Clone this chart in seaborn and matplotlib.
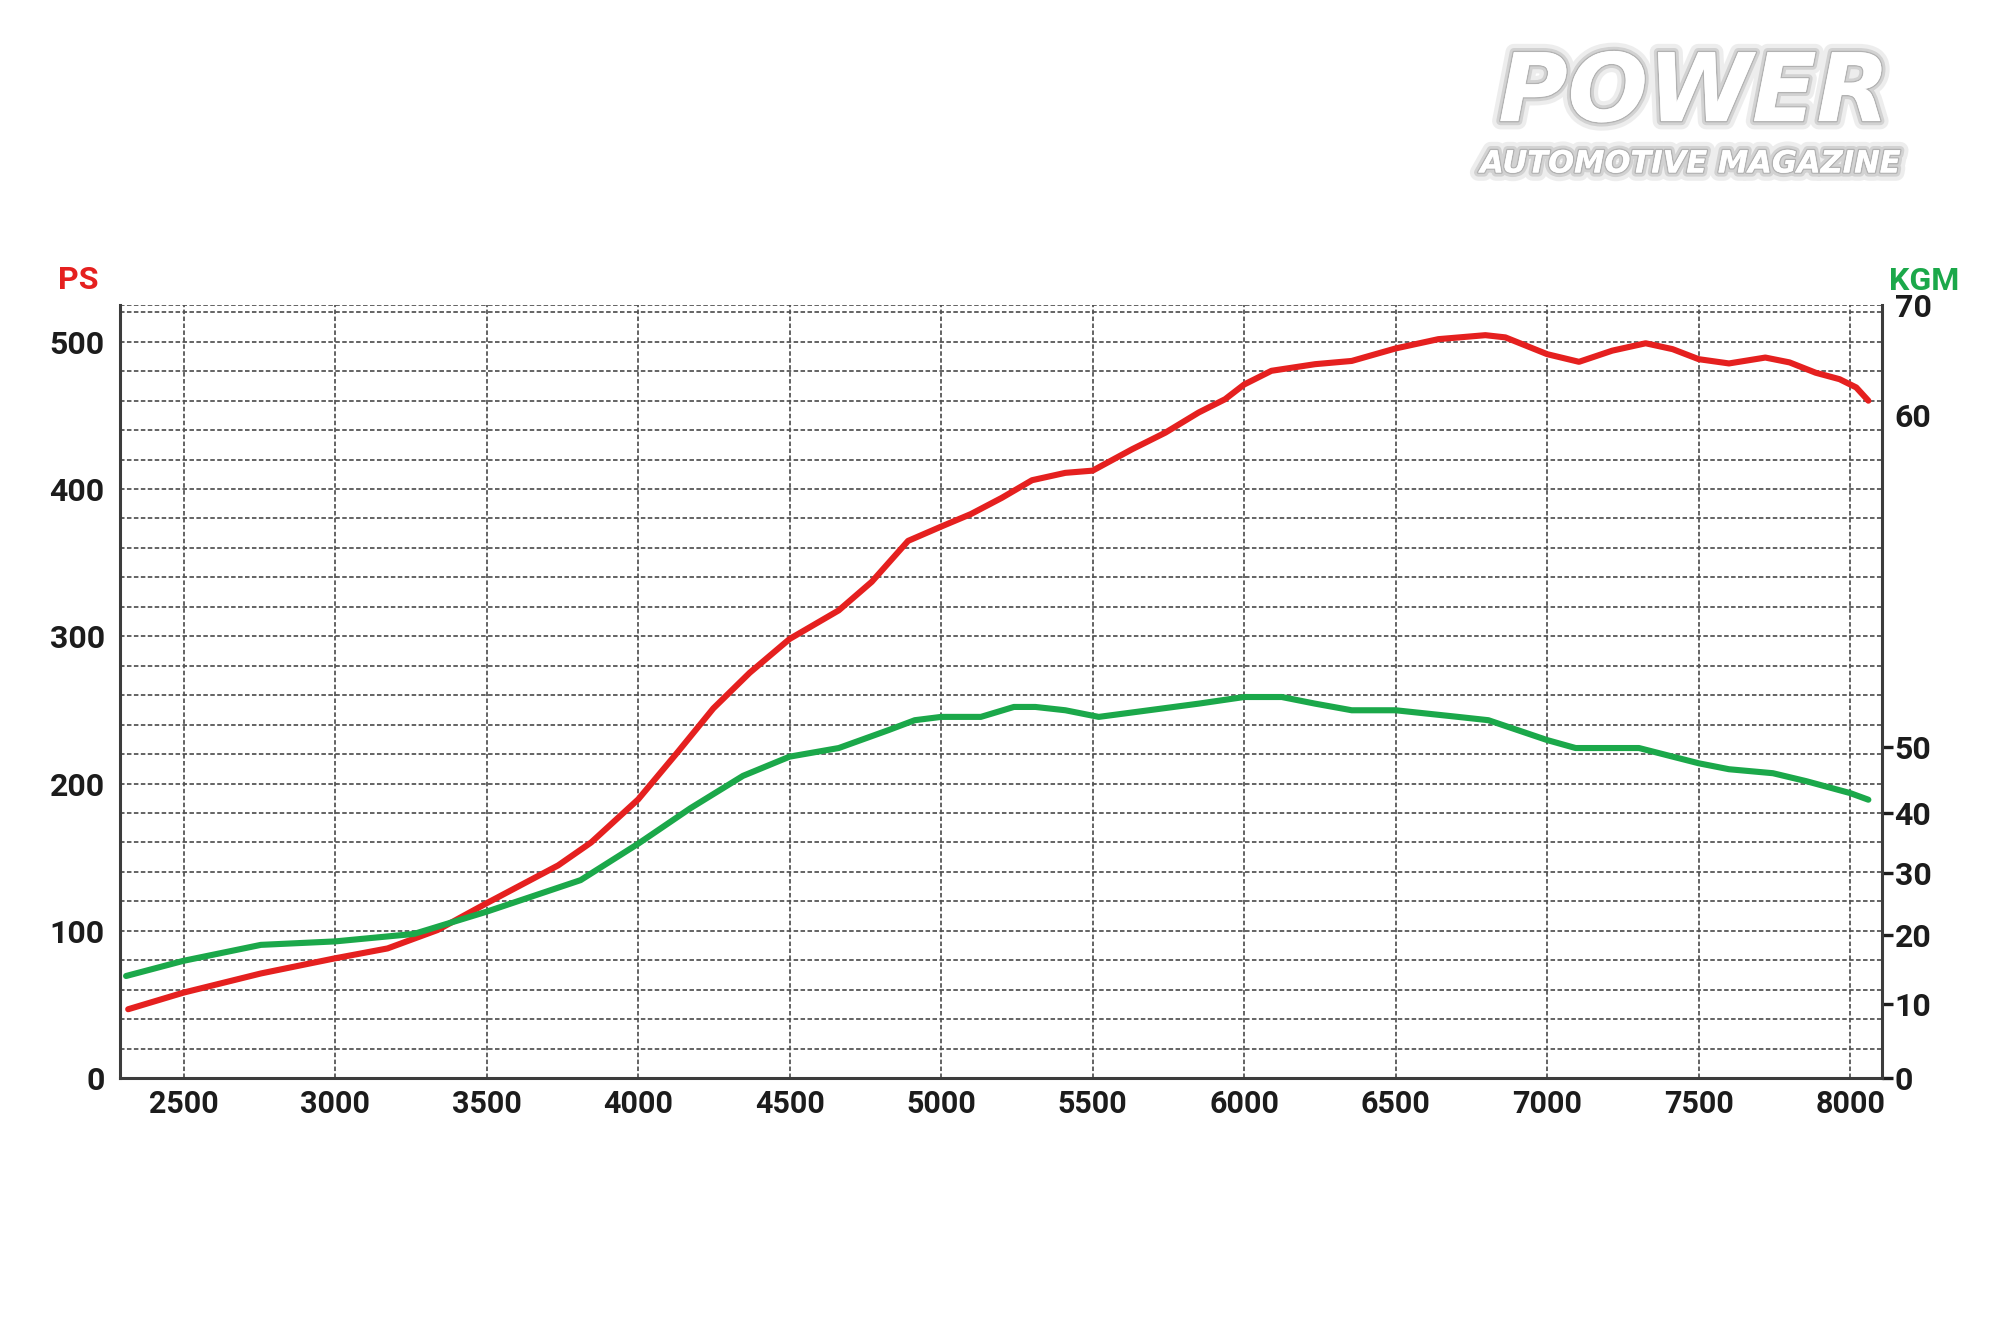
import numpy as np
import pandas as pd
import seaborn as sns
import matplotlib
matplotlib.use("Agg")
import matplotlib.pyplot as plt
from matplotlib import patheffects as pe

# power curve (PS)
power_rpm = [2317, 2500, 2755, 3000, 3173, 3338, 3500, 3736, 3845, 4000,
             4128, 4248, 4368, 4500, 4662, 4771, 4891, 5000, 5098, 5200,
             5300, 5410, 5500, 5630, 5740, 5850, 5937, 6000, 6090,
             6234, 6355, 6500, 6641, 6796, 6862, 7000, 7105, 7215, 7325,
             7414, 7500, 7600, 7720, 7800, 7886, 7965, 8020, 8060]
power_ps = [46.7, 58, 71, 81.3, 88, 100.5, 118.7, 144.4, 160, 189.2,
            220.7, 251, 275.2, 298.2, 317.6, 337, 364.8, 374.5, 383, 394,
            406, 411, 412.5, 427, 438.3, 452, 461, 471, 480.3,
            484.8, 487, 495.5, 501.8, 504.5, 503, 491.6, 486.4, 494, 499,
            495, 488.2, 485.3, 489.3, 486, 479, 474.6, 469, 460]

# torque curve (kgm)
torque_rpm = [2310, 2500, 2755, 3000, 3260, 3500, 3810, 4000, 4172, 4346,
              4500, 4662, 4826, 4913, 5000, 5131, 5240, 5311, 5410, 5520,
              5685, 5850, 6000, 6124, 6234, 6355, 6500, 6706, 6806, 7000,
              7094, 7303, 7500, 7600, 7745, 7855, 8000, 8060]
torque_kgm = [14.1, 16.3, 18.6, 19.1, 20.2, 23.8, 28.9, 34.9, 40.7, 45.6,
              48.5, 49.8, 50.5, 50.8, 50.9, 50.9, 51.2, 51.2, 51.1, 50.9,
              51.1, 51.3, 51.5, 51.5, 51.3, 51.1, 51.1, 50.9, 50.8, 50.2,
              49.8, 49.8, 47.5, 46.6, 46.0, 44.8, 43.0, 42.0]

rpm_ticks = [2500, 3000, 3500, 4000, 4500, 5000, 5500, 6000, 6500, 7000, 7500, 8000]
ps_ticks = [0, 100, 200, 300, 400, 500]
kgm_ticks = [0, 10, 20, 30, 40, 50, 60, 70]
# the KGM scale on the sheet is not linear: where each label sits on the PS scale
kgm_tick_pos = [0, 50, 97, 139, 180, 225, 450, 525]

RED = "#e5201f"
GREEN = "#1ba84a"
INK = "#1c1c1c"
GRID = "#505050"

sns.set_theme(style="white")
plt.rcParams["font.family"] = ["Roboto", "DejaVu Sans"]
plt.rcParams["font.weight"] = "bold"


def kgm_to_pos(v):
    return np.interp(v, kgm_ticks, kgm_tick_pos)


def pos_to_kgm(v):
    return np.interp(v, kgm_tick_pos, kgm_ticks)


fig = plt.figure(figsize=(20, 13.33), dpi=100)
ax = fig.add_axes([0.06, 0.1913, 0.881, 0.5799])

power = pd.DataFrame({"rpm": power_rpm, "ps": power_ps})
torque = pd.DataFrame({"rpm": torque_rpm, "kgm": torque_kgm})

sns.lineplot(data=power, x="rpm", y="ps", ax=ax, color=RED, lw=4.4)
ax.set_xlim(2290, 8105)
ax.set_ylim(0, 525)

ax2 = ax.twinx()
sns.lineplot(data=torque, x="rpm", y="kgm", ax=ax2, color=GREEN, lw=4.4)
ax2.set_yscale("function", functions=(kgm_to_pos, pos_to_kgm))
ax2.set_ylim(0, 70)

# grid
ax.set_xticks(rpm_ticks)
ax.set_yticks(ps_ticks)
ax.set_yticks(list(range(20, 521, 20)) + [525], minor=True)
grid_kw = dict(color=GRID, lw=1.25, linestyle=(0, (2.6, 1.4)))
ax.grid(which="both", axis="y", **grid_kw)
ax.grid(which="major", axis="x", **grid_kw)
ax.set_axisbelow(True)

for a in (ax, ax2):
    a.set_xlabel("")
    a.set_ylabel("")
    a.spines["top"].set_visible(False)
ax.spines["right"].set_visible(False)
ax2.spines["left"].set_visible(False)
ax2.spines["bottom"].set_visible(False)
for s in ("left", "bottom"):
    ax.spines[s].set_color("#3c3c3c")
    ax.spines[s].set_linewidth(2.2)
ax2.spines["right"].set_color("#3c3c3c")
ax2.spines["right"].set_linewidth(2.2)

ax.tick_params(axis="y", which="both", length=0, pad=11, labelsize=23, labelcolor=INK)
ax.tick_params(axis="x", length=0, pad=8, labelsize=22, labelcolor=INK)

ax2.set_yticks(kgm_ticks)
ax2.set_yticklabels([str(k) for k in kgm_ticks])
ax2.minorticks_off()
ax2.tick_params(axis="y", right=True, length=8, width=2.4, color=INK,
                pad=1, labelsize=23, labelcolor=INK)
for t in ax2.yaxis.get_major_ticks()[6:]:
    t.tick2line.set_visible(False)

fig.text(0.0288, 0.790, "PS", color=RED, fontsize=23, ha="left", va="center")
fig.text(0.9445, 0.789, "KGM", color=GREEN, fontsize=23, ha="left", va="center")

# magazine logo
glow = [pe.withStroke(linewidth=12, foreground="#d8d8d8", alpha=0.45),
        pe.withStroke(linewidth=6, foreground="#c0c0c0", alpha=0.6),
        pe.withStroke(linewidth=2, foreground="#aaaaaa", alpha=0.8),
        pe.Normal()]
fig.text(0.847, 0.9092, "POWER", color="white", fontsize=68, fontstyle="italic",
         fontweight="heavy", family="DejaVu Sans", ha="center", va="baseline",
         path_effects=glow)
fig.text(0.845, 0.877, "AUTOMOTIVE MAGAZINE", color="white", fontsize=22,
         fontstyle="italic", fontweight="bold", family="DejaVu Sans",
         ha="center", va="center", path_effects=glow)

fig.savefig("out.png", dpi=100)
